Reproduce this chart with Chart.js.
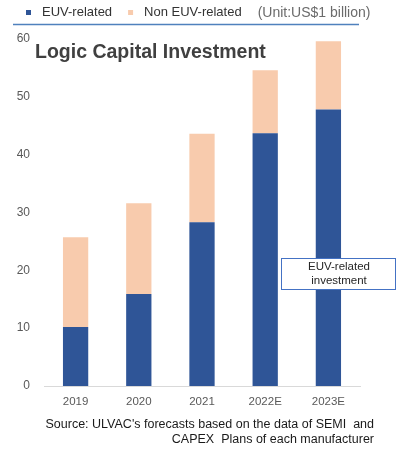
<!DOCTYPE html>
<html>
<head>
<meta charset="utf-8">
<script src="https://cdn.jsdelivr.net/npm/chart.js@4"></script>
<style>
  html, body { margin: 0; padding: 0; background: #fff; }
  #wrap { width: 396px; height: 450px; }
</style>
</head>
<body>
<div id="wrap"><canvas id="logicCapex" width="396" height="450"></canvas></div>
<script>
const years = ['2019', '2020', '2021', '2022E', '2023E'];
const euvRelated = [10.2, 15.9, 28.3, 43.7, 47.8];
const nonEuvRelated = [15.5, 15.7, 15.3, 10.9, 11.8];
const yTicks = [0, 10, 20, 30, 40, 50, 60];

const FONT = "'Liberation Sans', Arial, sans-serif";

// header legend, title, callout box and source note
const decorations = {
  id: 'decorations',
  afterDatasetsDraw(chart) {
    const ctx = chart.ctx;
    ctx.save();

    // legend row
    ctx.font = '13px ' + FONT;
    ctx.textBaseline = 'middle';
    let x = 26;
    chart.data.datasets.forEach(ds => {
      ctx.fillStyle = ds.backgroundColor;
      ctx.fillRect(x, 10, 5, 5);
      ctx.fillStyle = '#333333';
      ctx.fillText(ds.label, x + 16, 12);
      x += 16 + ctx.measureText(ds.label).width + 16;
    });
    ctx.font = '14px ' + FONT;
    ctx.fillStyle = '#6b6b6b';
    ctx.fillText('(Unit:US$1 billion)', x, 13);

    ctx.strokeStyle = '#4f81bd';
    ctx.lineWidth = 1.5;
    ctx.beginPath();
    ctx.moveTo(13, 24.5);
    ctx.lineTo(359, 24.5);
    ctx.stroke();

    // title inside the plot
    ctx.font = 'bold 19.5px ' + FONT;
    ctx.fillStyle = '#404040';
    ctx.textBaseline = 'alphabetic';
    ctx.fillText('Logic Capital Investment', 35, 58);

    // callout
    ctx.fillStyle = '#ffffff';
    ctx.fillRect(281, 258, 114, 31);
    ctx.strokeStyle = '#4472c4';
    ctx.lineWidth = 1;
    ctx.strokeRect(281.5, 258.5, 114, 31);
    ctx.fillStyle = '#262626';
    ctx.font = '11.5px ' + FONT;
    ctx.textAlign = 'center';
    ctx.textBaseline = 'middle';
    ctx.fillText('EUV-related', 339, 267);
    ctx.fillText('investment', 339, 281);

    // source note
    ctx.fillStyle = '#1a1a1a';
    ctx.font = '12.5px ' + FONT;
    ctx.textAlign = 'right';
    ctx.fillText("Source: ULVAC's forecasts based on the data of SEMI  and", 374, 425);
    ctx.fillText('CAPEX  Plans of each manufacturer', 374, 440);

    ctx.restore();
  }
};

new Chart(document.getElementById('logicCapex').getContext('2d'), {
  type: 'bar',
  data: {
    labels: years,
    datasets: [{
      label: 'EUV-related',
      data: euvRelated,
      backgroundColor: '#2f5597',
      borderWidth: 0
    }, {
      label: 'Non EUV-related',
      data: nonEuvRelated,
      backgroundColor: '#f8cbad',
      borderWidth: 0
    }]
  },
  options: {
    responsive: false,
    animation: false,
    layout: { padding: { top: 39, right: 36, bottom: 0, left: 0 } },
    datasets: { bar: { barPercentage: 0.4, categoryPercentage: 1 } },
    plugins: {
      legend: { display: false },
      tooltip: { enabled: false }
    },
    scales: {
      x: {
        stacked: true,
        grid: { display: false, drawTicks: false },
        border: { display: true, color: '#d9d9d9', width: 1 },
        ticks: { color: '#595959', font: { family: FONT, size: 11.5 }, padding: 9 },
        afterFit: s => { s.height = 64; }
      },
      y: {
        stacked: true,
        min: 0,
        max: 60,
        grid: { display: false, drawTicks: false },
        border: { display: false },
        ticks: { color: '#595959', font: { family: FONT, size: 12 }, padding: 14 },
        afterBuildTicks: s => { s.ticks = yTicks.map(v => ({ value: v })); },
        afterFit: s => { s.width = 44; }
      }
    }
  },
  plugins: [decorations]
});
</script>
</body>
</html>
